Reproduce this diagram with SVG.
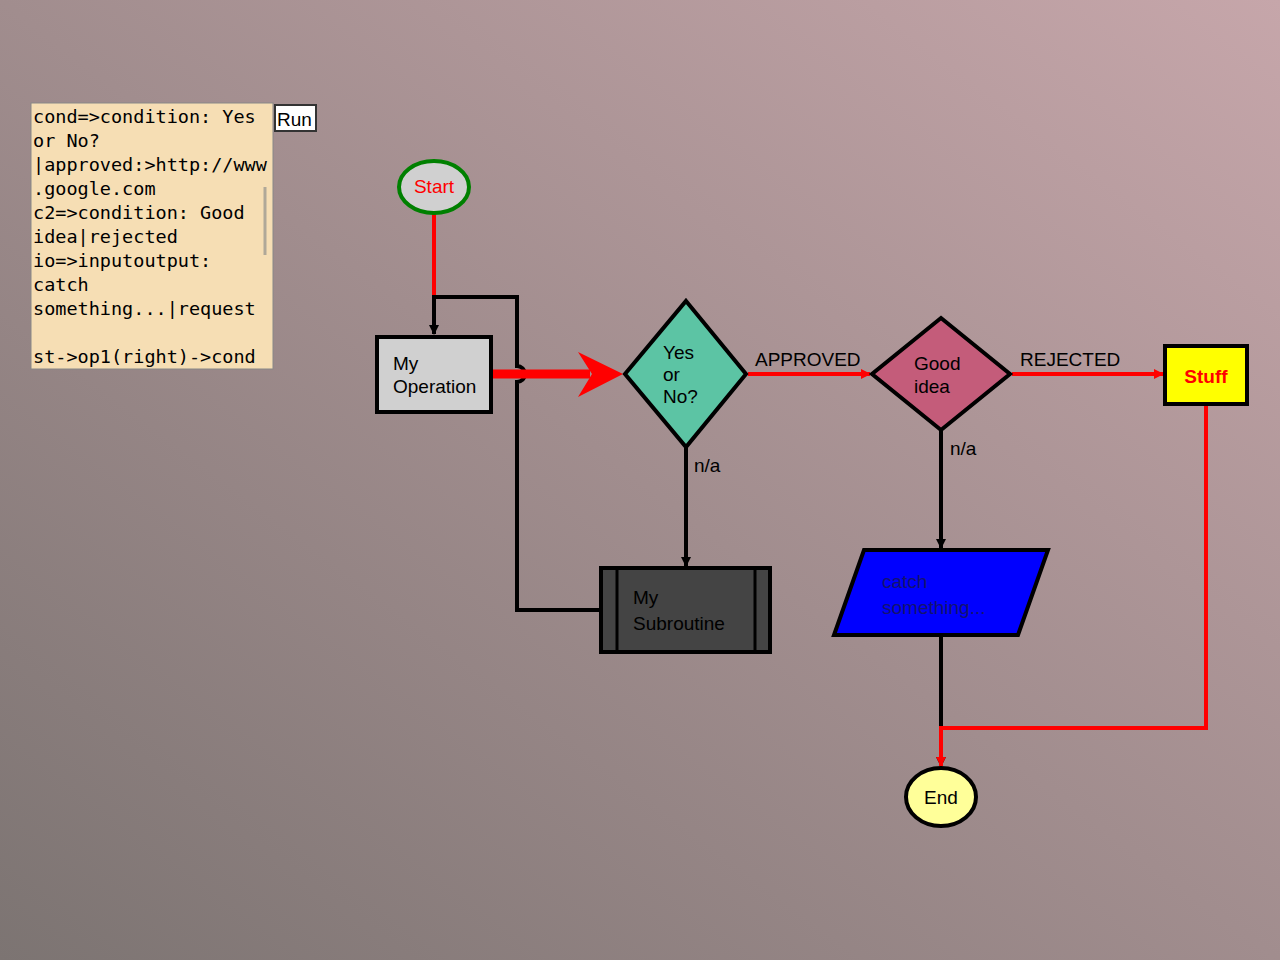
<svg xmlns="http://www.w3.org/2000/svg" width="1280" height="960" viewBox="0 0 1280 960">
<style>
text{font-family:"Liberation Sans",Arial,sans-serif;font-size:19px;fill:#000}
.code{font-family:"DejaVu Sans Mono","Liberation Mono",monospace;font-size:18.5px}
.blk{stroke:#000;stroke-width:4;fill:none}
.red{stroke:#f00;stroke-width:4;fill:none}
</style>
<defs>
<linearGradient id="bg" x1="0" y1="1" x2="1" y2="0">
<stop offset="0" stop-color="#7c7472"/>
<stop offset="1" stop-color="#c6a6aa"/>
</linearGradient>
<marker id="ab" markerWidth="10" markerHeight="10" refX="9" refY="5" orient="auto" markerUnits="userSpaceOnUse"><path d="M0,0 L10,5 L0,10 Z" fill="#000"/></marker>
<marker id="ar" markerWidth="10" markerHeight="10" refX="9" refY="5" orient="auto" markerUnits="userSpaceOnUse"><path d="M0,0 L10,5 L0,10 Z" fill="#f00"/></marker>
</defs>
<rect width="1280" height="960" fill="url(#bg)"/>
<g id="editor">
<rect x="31" y="103" width="242" height="266" fill="#f6deb4" stroke="#888" stroke-width="1"/>
<line x1="265" y1="187" x2="265" y2="255" stroke="#b0a898" stroke-width="3"/>
<text class="code" x="33" y="123">cond=&gt;condition: Yes</text>
<text class="code" x="33" y="147">or No?</text>
<text class="code" x="33" y="171">|approved:&gt;http://www</text>
<text class="code" x="33" y="195">.google.com</text>
<text class="code" x="33" y="219">c2=&gt;condition: Good</text>
<text class="code" x="33" y="243">idea|rejected</text>
<text class="code" x="33" y="267">io=&gt;inputoutput:</text>
<text class="code" x="33" y="291">catch</text>
<text class="code" x="33" y="315">something...|request</text>
<text class="code" x="33" y="363">st-&gt;op1(right)-&gt;cond</text>
<rect x="275" y="105" width="41" height="26" fill="#fff" stroke="#333" stroke-width="2"/>
<text x="277" y="126" font-size="20">Run</text>
</g>
<g id="connectors">
<line class="red" x1="434" y1="214" x2="434" y2="297"/>
<path class="blk" d="M601,610 H517 V382 A8,8 0 0 0 517,366 V297 H434 V334" marker-end="url(#ab)"/>
<line x1="491" y1="374" x2="590" y2="374" stroke="#f00" stroke-width="9"/>
<path d="M578,352 L623,374 L578,397 L592,374 Z" fill="#f00"/>
<line class="red" x1="748" y1="374" x2="870" y2="374" stroke-width="3" marker-end="url(#ar)"/>
<text x="755" y="366">APPROVED</text>
<line class="blk" x1="686" y1="447" x2="686" y2="566" stroke-width="3" marker-end="url(#ab)"/>
<text x="694" y="472">n/a</text>
<line class="red" x1="1012" y1="374" x2="1163" y2="374" stroke-width="3" marker-end="url(#ar)"/>
<text x="1020" y="366">REJECTED</text>
<line class="blk" x1="941" y1="430" x2="941" y2="548" stroke-width="3" marker-end="url(#ab)"/>
<text x="950" y="455">n/a</text>
<line class="blk" x1="941" y1="636" x2="941" y2="766" stroke-width="3" marker-end="url(#ab)"/>
<path class="red" d="M1206,404 V728 H941 V766" stroke-width="3" marker-end="url(#ar)"/>
</g>
<g id="start">
<ellipse cx="434" cy="187" rx="35" ry="26" fill="#d0d0d0" stroke="#008000" stroke-width="4"/>
<text x="434" y="193" text-anchor="middle" fill="#f00" style="fill:#f00">Start</text>
</g>
<g id="op1">
<rect x="377" y="337" width="114" height="75" fill="#d0d0d0" stroke="#000" stroke-width="4"/>
<text x="393" y="370">My</text>
<text x="393" y="393">Operation</text>
</g>
<g id="cond">
<polygon points="686,301 746,374 686,447 625,374" fill="#5cc4a4" stroke="#000" stroke-width="4"/>
<text x="663" y="359">Yes</text>
<text x="663" y="381">or</text>
<text x="663" y="403">No?</text>
</g>
<g id="c2">
<polygon points="941,318 1010,374 941,430 872,374" fill="#c45c7a" stroke="#000" stroke-width="4"/>
<text x="914" y="370">Good</text>
<text x="914" y="393">idea</text>
</g>
<g id="stuff">
<rect x="1165" y="346" width="82" height="58" fill="#ff0" stroke="#000" stroke-width="4"/>
<text x="1206" y="383" text-anchor="middle" font-weight="bold" font-size="21" style="fill:#f00">Stuff</text>
</g>
<g id="sub">
<rect x="601" y="568" width="169" height="84" fill="#444" stroke="#000" stroke-width="4"/>
<line x1="617" y1="568" x2="617" y2="652" stroke="#000" stroke-width="3"/>
<line x1="755" y1="568" x2="755" y2="652" stroke="#000" stroke-width="3"/>
<text x="633" y="604" font-size="21">My</text>
<text x="633" y="630" font-size="21">Subroutine</text>
</g>
<g id="io">
<polygon points="864,550 1048,550 1018,635 834,635" fill="#00f" stroke="#000" stroke-width="4"/>
<text x="882" y="588" font-size="21" style="fill:#14146e">catch</text>
<text x="882" y="614" font-size="21" style="fill:#14146e">something...</text>
</g>
<g id="end">
<ellipse cx="941" cy="797" rx="35" ry="29" fill="#ffff99" stroke="#000" stroke-width="4"/>
<text x="941" y="804" text-anchor="middle" font-size="21">End</text>
</g>
</svg>
